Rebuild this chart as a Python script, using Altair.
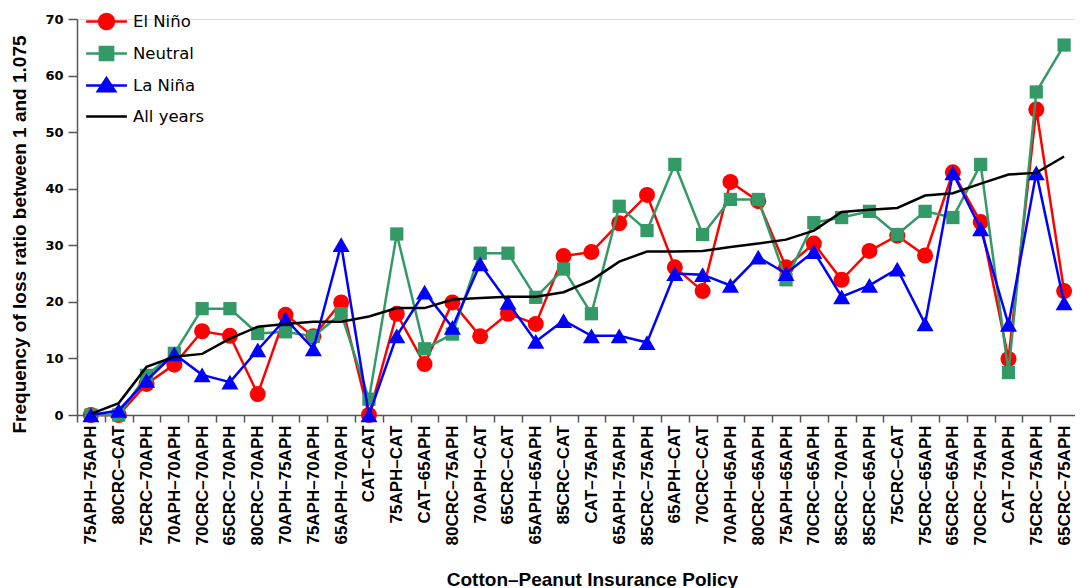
import altair as alt
import pandas as pd

policies = [
    "75APH–75APH", "80CRC–CAT", "75CRC–70APH", "70APH–70APH", "70CRC–70APH",
    "65CRC–70APH", "80CRC–70APH", "70APH–75APH", "75APH–70APH", "65APH–70APH",
    "CAT–CAT", "75APH–CAT", "CAT–65APH", "80CRC–75APH", "70APH–CAT",
    "65CRC–CAT", "65APH–65APH", "85CRC–CAT", "CAT–75APH", "65APH–75APH",
    "85CRC–75APH", "65APH–CAT", "70CRC–CAT", "70APH–65APH", "80CRC–65APH",
    "75APH–65APH", "70CRC–65APH", "85CRC–70APH", "85CRC–65APH", "75CRC–CAT",
    "75CRC–65APH", "65CRC–65APH", "70CRC–75APH", "CAT–70APH", "75CRC–75APH",
    "65CRC–75APH",
]

el_nino = [0, 0, 5.5, 8.9, 14.8, 14.0, 3.7, 17.7, 13.9, 19.9,
           0, 17.9, 9.0, 19.9, 13.9, 17.9, 16.1, 28.1, 28.8, 33.9,
           38.9, 26.1, 21.9, 41.2, 37.8, 26.1, 30.3, 23.9, 29.0, 31.7,
           28.2, 42.9, 34.1, 9.9, 54.0, 21.9]

neutral = [0, 0, 7.0, 10.9, 18.8, 18.8, 14.4, 14.7, 13.9, 17.9,
           2.8, 32.0, 11.7, 14.3, 28.6, 28.6, 20.8, 25.8, 17.9, 36.9,
           32.6, 44.3, 31.9, 38.1, 38.1, 23.9, 34.0, 34.9, 36.0, 31.9,
           36.0, 34.9, 44.3, 7.5, 57.1, 65.4]

la_nina = [0, 0.8, 6.1, 10.8, 7.1, 5.8, 11.5, 17.0, 11.7, 30.1,
           0, 14.0, 21.7, 15.5, 26.7, 19.9, 13.0, 16.7, 14.0, 14.0,
           12.8, 25.0, 24.8, 22.9, 27.9, 25.0, 28.9, 20.9, 22.9, 25.8,
           16.1, 42.8, 32.9, 16.0, 42.8, 19.8]

all_years = [0.2, 2.1, 8.5, 10.3, 10.8, 13.5, 15.6, 16.1, 16.5, 16.5,
             17.4, 18.9, 18.9, 20.4, 20.7, 20.9, 20.9, 21.7, 23.8, 27.1,
             28.9, 28.9, 29.0, 29.7, 30.3, 31.0, 32.6, 35.9, 36.3, 36.6,
             38.8, 39.2, 40.9, 42.5, 42.8, 45.7]

series_names = ["El Niño", "Neutral", "La Niña", "All years"]
series_colors = ["#ff0000", "#339966", "#0000ff", "#000000"]
y_ticks = [0, 10, 20, 30, 40, 50, 60, 70]

rows = []
for name, vals in zip(series_names, [el_nino, neutral, la_nina, all_years]):
    for p, v in zip(policies, vals):
        rows.append({"policy": p, "series": name, "value": v})
df = pd.DataFrame(rows)

# legend glyphs: a short line with the series marker on it
LINE = "M-1.7,0H1.7"
CIRC = "M0.62,0A0.62,0.62,0,1,1,-0.62,0A0.62,0.62,0,1,1,0.62,0Z"
SQR = "M-0.55,-0.55H0.55V0.55H-0.55Z"
TRI = "M0,-0.62L0.72,0.48H-0.72Z"
legend_shapes = [LINE + CIRC, LINE + SQR, LINE + TRI, LINE]

legend = alt.Legend(
    title=None, orient="none", legendX=16, legendY=-11, padding=0,
    rowPadding=6, labelOffset=13, symbolSize=576, symbolStrokeWidth=2.5,
    symbolOpacity=1,
    labelFont="DejaVu Sans", labelFontSize=16.5, labelColor="#000000",
    labelFontWeight="normal",
)

x_enc = alt.X(
    "policy:N", sort=policies, bandPosition=0.5,
    scale=alt.Scale(type="band", paddingInner=0, paddingOuter=0, domain=policies),
    axis=alt.Axis(
        title="Cotton–Peanut Insurance Policy", labelAngle=270, labelOverlap=False,
        tickBand="extent", tickSize=7, labelPadding=3,
        labelFont="Liberation Sans", labelFontSize=17, labelFontWeight="bold",
        labelColor="#000000", domainColor="#555555", tickColor="#555555",
        domainWidth=1.5, tickWidth=1.5,
        titleFont="Liberation Sans", titleFontSize=19, titleFontWeight="bold",
        titleColor="#000000", titleX=515, titleY=170, titleBaseline="alphabetic",
        titleAlign="center",
    ),
)
y_enc = alt.Y(
    "value:Q",
    scale=alt.Scale(domain=[0, 70], nice=False),
    axis=alt.Axis(
        title="Frequency of loss ratio between 1 and 1.075", values=y_ticks,
        grid=False, tickSize=9, labelPadding=5,
        labelFont="DejaVu Sans", labelFontSize=13, labelFontWeight="bold",
        labelColor="#000000", domainColor="#555555", tickColor="#555555",
        domainWidth=1.5, tickWidth=1.5,
        titleFont="Liberation Sans", titleFontSize=19, titleFontWeight="bold",
        titleColor="#000000", titleX=-52, titleY=215, titleAngle=270,
        titleBaseline="alphabetic", titleAlign="center",
    ),
)
# colour scale for the drawn marks (domain order differs from the legend's
# so that its disabled legend is not merged with the legend below)
color_enc = alt.Color(
    "series:N",
    scale=alt.Scale(domain=series_names[::-1], range=series_colors[::-1]),
    legend=None,
)

base = alt.Chart(df).encode(x=x_enc, y=y_enc, color=color_enc)

shapes = {"El Niño": ("circle", 256), "Neutral": ("square", 175), "La Niña": ("triangle-up", 290)}
layers = []
for name in series_names:
    sub = base.transform_filter(alt.datum.series == name)
    layers.append(sub.mark_line(strokeWidth=2.5))
    if name in shapes:
        shp, sz = shapes[name]
        layers.append(sub.mark_point(shape=shp, size=sz, filled=True, opacity=1))

# legend carrier: draws no marks, only provides the combined legend
legend_layer = alt.Chart(df).transform_filter("false").mark_point(
    filled=True, opacity=1, strokeWidth=2.5, size=576
).encode(
    x=alt.X("policy:N", sort=policies, bandPosition=0.5),
    y=alt.Y("value:Q"),
    fill=alt.Fill("series:N", scale=alt.Scale(domain=series_names, range=series_colors), legend=legend),
    stroke=alt.Stroke("series:N", scale=alt.Scale(domain=series_names, range=series_colors), legend=legend),
    shape=alt.Shape("series:N", scale=alt.Scale(domain=series_names, range=legend_shapes), legend=legend),
)
layers.append(legend_layer)

chart = alt.layer(*layers).properties(
    width=1001, height=396,
    autosize=alt.AutoSizeParams(type="none"),
    padding={"left": 69, "top": 11, "right": -3, "bottom": 173},
).configure_view(strokeWidth=0).configure(background="white")

chart.save("out.html", embed_options={"renderer": "svg", "actions": False})
